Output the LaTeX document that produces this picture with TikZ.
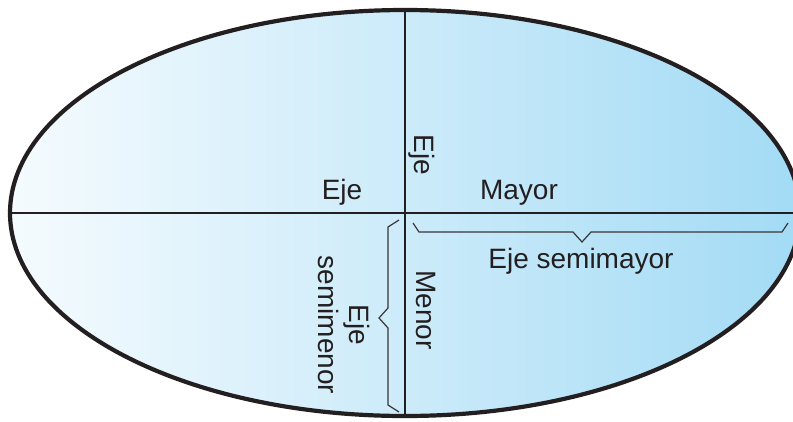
\documentclass[tikz,border=0pt]{standalone}
\usepackage{fontspec}
\setmainfont{Liberation Sans}
\usetikzlibrary{positioning}

\definecolor{skyL}{HTML}{F5FBFE}
\definecolor{skyM}{HTML}{E2F3FC}
\definecolor{skyR}{HTML}{A3DBF5}
\definecolor{ink}{HTML}{231F20}

\begin{document}
\begin{tikzpicture}[
  x=1pt,y=-1pt,
  axis/.style={line width=1.7pt,ink},
  rim/.style={line width=4.2pt,ink},
  bracket/.style={line width=1.2pt,ink!90,line join=miter},
  lbl/.style={font=\fontsize{28}{31}\selectfont,text=ink,inner sep=0pt}
]
  \useasboundingbox (0,0) rectangle (793,421);
  \clip (0,0) rectangle (793,421);

  % ellipse and axes
  \coordinate (O) at (405,213);
  \draw[rim,left color=skyL,middle color=skyM,right color=skyR]
    (O) ellipse [x radius=395,y radius=203];
  \coordinate (W) at (10,213);
  \coordinate (E) at (800,213);
  \coordinate (N) at (405,10);
  \coordinate (S) at (405,416);
  \draw[axis] (W) -- (E);
  \draw[axis] (N) -- (S);

  % labels
  \node[lbl,anchor=base] (ejeH) at (342,199) {Eje};
  \node[lbl,anchor=base] (mayor) at (519,199) {Mayor};
  \node[lbl,rotate=-90] (ejeV) at (422,155) {Eje};
  \node[lbl,rotate=-90] (menor) at (426,310) {Menor};
  \node[lbl,anchor=base] (semimayor) at (581,268) {Eje semimayor};
  \node[lbl,rotate=-90,align=center] (semimenor) at (344,325) {Eje\\semimenor};

  % bracket under the semi-major axis
  \coordinate (a1) at (413,223);
  \coordinate (a2) at (419,232);
  \coordinate (a3) at (573,232);
  \coordinate (a4) at (582,242);
  \coordinate (a5) at (591,232);
  \coordinate (a6) at (782,232);
  \coordinate (a7) at (788,223);
  \draw[bracket] (a1) -- (a2) -- (a3) -- (a4) -- (a5) -- (a6) -- (a7);

  % bracket beside the semi-minor axis
  \coordinate (b1) at (399,220);
  \coordinate (b2) at (388,227);
  \coordinate (b3) at (388,308);
  \coordinate (b4) at (379,318);
  \coordinate (b5) at (388,328);
  \coordinate (b6) at (388,405);
  \coordinate (b7) at (399,412);
  \draw[bracket] (b1) -- (b2) -- (b3) -- (b4) -- (b5) -- (b6) -- (b7);
\end{tikzpicture}
\end{document}
